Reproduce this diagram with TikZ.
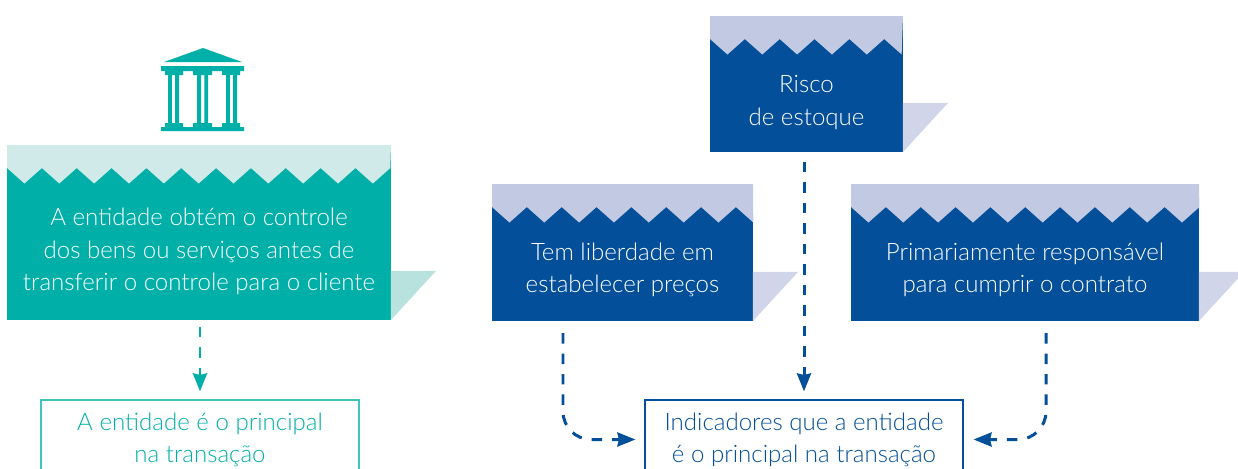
\documentclass[tikz,border=0pt]{standalone}
\usepackage{fontspec}
\setmainfont{Lato Light}
\usetikzlibrary{arrows.meta,calc,positioning}
\definecolor{tealdark}{HTML}{00B0A8}
\definecolor{tealband}{HTML}{CFEAE8}
\definecolor{tealflap}{HTML}{B8E2DE}
\definecolor{bluedark}{HTML}{034F9A}
\definecolor{blueband}{HTML}{C2C9E2}
\definecolor{blueflap}{HTML}{D0D5E9}
\tikzset{
        box/.style = {rectangle, inner sep=0pt, outer sep=0pt},
        boxtext/.style = {align=center, text=white, font=\fontsize{13.7}{18.3}\selectfont, inner sep=0pt},
        result/.style = {rectangle, draw, fill=white, line width=0.7pt, inner sep=0pt,
            minimum width=6.36cm, minimum height=1.58cm, align=center,
            font=\fontsize{13.7}{18.3}\selectfont},
        dasharrow/.style = {draw, line width=1.7pt, dash pattern=on 0.21cm off 0.2cm,
            -{Stealth[length=0.36cm,width=0.28cm,inset=0.03cm]}, rounded corners=0.56cm},
    }
\begin{document}
\begin{tikzpicture}[x=0.02cm, y=-0.02cm]
		\useasboundingbox (0,0) rectangle (1238,468);
		% boxes
		\node[box,fill=tealdark,minimum width=7.68cm,minimum height=3.5cm] (Controle) at (199,232.5) {};
		\node[box,fill=bluedark,minimum width=3.86cm,minimum height=2.72cm] (Estoque) at (806.5,84) {};
		\node[box,fill=bluedark,minimum width=5.22cm,minimum height=2.74cm] (Precos) at (622.5,252.5) {};
		\node[box,fill=bluedark,minimum width=6.96cm,minimum height=2.74cm] (Contrato) at (1025,252.5) {};
		% bands and flaps
		\foreach \b/\n/\e/\c in {Controle/11/0/teal, Estoque/5/1/blue, Precos/7/1/blue, Contrato/10/0/blue} {
			\fill[\c band] (\b.north west) -- ++(0,23)
				\foreach \k in {1,...,\n} { -- ++(17.42,15.5) -- ++(17.42,-15.5) }
				-- ++(\e*17.42,\e*15.5) -- (\b.north east) -- cycle;
			\fill[\c flap] (\b.south east) -- ++(0,-49) -- ++(45,0) -- cycle;
		}
		% texts
		\node[boxtext] (ControleText)[below of=Controle, node distance=0.38cm] {A entidade obtém o controle\\dos bens ou serviços antes de\\transferir o controle para o cliente};
		\node[boxtext] (EstoqueText)[below of=Estoque, node distance=0.37cm] {Risco\\de estoque};
		\node[boxtext] (PrecosText)[below of=Precos, node distance=0.34cm] {Tem liberdade em\\estabelecer preços};
		\node[boxtext] (ContratoText)[below of=Contrato, node distance=0.34cm] {Primariamente responsável\\para cumprir o contrato};
		% results
		\node[result,draw=tealdark!75,text=tealdark] (Principal) at (200,439.5) {A entidade é o principal\\na transação};
		\node[result,draw=bluedark,text=bluedark] (Indicadores) at (804,439.5) {Indicadores que a entidade\\é o principal na transação};
		% building
		\fill[tealdark] (203,48) -- (242,62) -- (164,62) -- cycle;
		\fill[tealdark] (161,66) rectangle (244,71) (165,71) rectangle (183,75) (193,71) rectangle (212,75) (222,71) rectangle (240,75)
			(161,127) rectangle (244,131) (165,123) rectangle (183,127) (193,123) rectangle (212,127) (222,123) rectangle (240,127);
		\foreach \x in {173.5,202.7,231.5} {
			\fill[tealdark] (\x-5.5,75) rectangle (\x-1.7,123) (\x+1.7,75) rectangle (\x+5.5,123);
		}
		% arrows
		\coordinate (PrecosExit) at (563,321);
		\coordinate (ContratoExit) at (1046,321);
		\path[dasharrow,tealdark,shorten <=0.14cm,shorten >=0.16cm] (Controle.south -| Principal.north) -- (Principal.north);
		\path[dasharrow,bluedark,shorten <=0.2cm,shorten >=0.16cm] (Estoque.south -| Indicadores.north) -- (Indicadores.north);
		\path[dasharrow,bluedark,shorten <=0.24cm,shorten >=0.18cm] (PrecosExit) |- (Indicadores.west);
		\path[dasharrow,bluedark,shorten <=0.24cm,shorten >=0.2cm] (ContratoExit) |- (Indicadores.east);
\end{tikzpicture}
\end{document}
